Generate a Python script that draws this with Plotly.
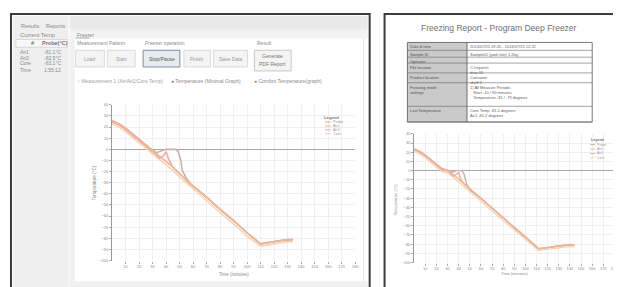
import plotly.graph_objects as go

W, H = 621, 287
def X(px): return px / W
def Y(py): return 1 - py / H

# ---------------- data (left screenshot) ----------------
x_ticks = [10, 20, 30, 40, 50, 60, 70, 80, 90, 100, 110, 120, 130, 140, 150, 160, 170, 180]
y_ticks = [40, 30, 20, 10, 0, -10, -20, -30, -40, -50, -60, -70, -80, -90, -100]

left_probe_t = [0, 5, 10, 15, 20, 25, 29, 33, 37, 40, 47, 49, 51, 52, 55, 58, 70, 80, 90, 100, 110, 115, 120, 125, 130, 134]
left_probe_v = [25, 23, 19, 14, 9, 4, 0, -3, -1, 0, 0, -2, -10, -19, -26, -31, -43, -54, -64, -75, -85, -84, -83, -82, -82, -81]
left_air1_t = [0, 5, 10, 15, 20, 25, 29, 35, 40, 45, 50, 58, 70, 80, 90, 100, 110, 115, 120, 125, 130, 134]
left_air1_v = [26, 23, 19, 14, 9, 4, 0, -6, -11, -16, -22, -31, -43, -54, -64, -75, -85, -84, -83, -82, -81, -81]
left_air2_t = [0, 5, 10, 15, 20, 25, 29, 32, 35, 38, 40, 42, 45, 50, 58, 70, 80, 90, 100, 110, 115, 120, 125, 130, 134]
left_air2_v = [25, 22, 18, 13, 8, 3, -1, -4, -8, -6, -2, -9, -16, -22, -31, -43, -54, -64, -75, -85, -84, -83, -82, -81, -81]
left_core_t = [0, 5, 10, 15, 20, 25, 29, 35, 40, 45, 50, 58, 70, 80, 90, 100, 110, 115, 120, 125, 130, 134]
left_core_v = [23, 20, 16, 11, 6, 1, -3, -9, -14, -19, -25, -33, -46, -57, -67, -78, -87, -86, -85, -84, -83, -83]

# ---------------- data (right screenshot) ----------------
right_probe_t = [0, 5, 10, 15, 20, 25, 31, 34, 38, 43, 45, 47, 49, 51, 60, 70, 80, 90, 100, 112, 118, 124, 130, 137, 144]
right_probe_v = [23, 21, 17, 12, 7, 2, 0, -2, 0, 0, -4, -14, -19, -22, -30, -41, -51, -62, -72, -85, -84, -83, -82, -81, -81]
right_air1_t = [0, 5, 10, 15, 20, 25, 31, 36, 41, 46, 51, 60, 70, 80, 90, 100, 112, 118, 124, 130, 137, 144]
right_air1_v = [24, 21, 17, 12, 7, 2, 0, -5, -11, -16, -21, -30, -41, -51, -62, -72, -85, -84, -83, -82, -81, -81]
right_air2_t = [0, 5, 10, 15, 20, 25, 31, 35, 38, 40, 42, 46, 51, 60, 70, 80, 90, 100, 112, 118, 124, 130, 137, 144]
right_air2_v = [23, 20, 16, 11, 6, 1, -1, -6, -4, -2, -10, -16, -21, -30, -41, -51, -62, -72, -85, -84, -83, -82, -81, -81]
right_core_t = [0, 5, 10, 15, 20, 25, 31, 36, 41, 46, 51, 60, 70, 80, 90, 100, 112, 118, 124, 130, 137, 144]
right_core_v = [21, 18, 14, 9, 4, -1, -3, -8, -14, -19, -24, -33, -44, -54, -65, -75, -87, -86, -85, -84, -83, -83]

series_names = ["Probe", "Air1", "Air2", "Core"]
series_colors = ["#c9b3a6", "#f4b48c", "#f2aaa8", "#f9d5b6"]

sidebar_rows = [("Air1", "-81.1°C"), ("Air2", "-82.5°C"), ("Core", "-83.1°C"), ("Time", "1:55:12")]
buttons = [("Load", 68, 97), ("Start", 100, 128), ("Stop/Pause", 136, 173), ("Finish", 177, 204), ("Save Data", 207, 241)]
report_rows = [
    ("Date & time", "2013/07/25 09:45 - 2013/07/25 12:22", 32, 40),
    ("Sample ID", "Sample01 (pork loin) 1.2kg", 40, 47),
    ("Operator", "", 47, 53),
    ("File location", "C:\\reports\\<br>data 01", 53, 63),
    ("Product location", "Container<br>shelf 2", 63, 73),
    ("Freezing mode<br>settings", "1) All Measure Periods<br>   Start -10 / 90 minutes<br>   Temperature -81 / -79 degrees", 73, 97),
    ("Last Temperature", "Core Temp -81.1 degrees<br>Air1 -81.2 degrees", 97, 113),
]

FONT = "Liberation Sans"
TXT = "#8a8a8a"

fig = go.Figure()

left = [(left_probe_t, left_probe_v), (left_air1_t, left_air1_v), (left_air2_t, left_air2_v), (left_core_t, left_core_v)]
right = [(right_probe_t, right_probe_v), (right_air1_t, right_air1_v), (right_air2_t, right_air2_v), (right_core_t, right_core_v)]
order = [3, 2, 0, 1]
for i in order:
    t, v = left[i]
    fig.add_trace(go.Scatter(x=t, y=v, mode="lines", name=series_names[i],
                             line=dict(color=series_colors[i], width=1.6), xaxis="x", yaxis="y", showlegend=False))
for i in order:
    t, v = right[i]
    fig.add_trace(go.Scatter(x=t, y=v, mode="lines", name=series_names[i],
                             line=dict(color=series_colors[i], width=1.4), xaxis="x2", yaxis="y2", showlegend=False))

shapes = []
ann = []

def rect(x0, y0, x1, y1, fill=None, line=None, lw=1, layer="below"):
    shapes.append(dict(type="rect", xref="paper", yref="paper", x0=X(x0), x1=X(x1), y0=Y(y1), y1=Y(y0),
                       fillcolor=fill if fill else "rgba(0,0,0,0)",
                       line=dict(color=line if line else "rgba(0,0,0,0)", width=lw if line else 0), layer=layer))

def hline(x0, x1, y, color, lw=1, layer="below"):
    shapes.append(dict(type="line", xref="paper", yref="paper", x0=X(x0), x1=X(x1), y0=Y(y), y1=Y(y),
                       line=dict(color=color, width=lw), layer=layer))

def vline(x, y0, y1, color, lw=1, layer="below"):
    shapes.append(dict(type="line", xref="paper", yref="paper", x0=X(x), x1=X(x), y0=Y(y0), y1=Y(y1),
                       line=dict(color=color, width=lw), layer=layer))

def txt(px, py, s, size=5.5, color=TXT, anchor="left", angle=0, yanchor="middle"):
    ann.append(dict(x=X(px), y=Y(py), xref="paper", yref="paper", text=s, showarrow=False,
                    xanchor=anchor, yanchor=yanchor, textangle=angle, borderpad=0,
                    font=dict(family=FONT, size=size, color=color), align="left"))

# ---------- left panel ----------
rect(3, 3, 364, 284, fill="white", line="#3c3c3c", lw=2)
rect(5, 5, 61, 282, fill="#efefef")
rect(62, 5, 362, 19, fill="#e9e9e9")
rect(62, 19, 362, 28, fill="#f3f3f3")
rect(62, 28, 67, 282, fill="#f0f0f0")
rect(62, 275, 362, 282, fill="#f0f0f0")
vline(358, 28, 275, "#e2e2e2")
txt(12, 15, "Results", 5.5)
txt(37, 15, "Reports", 5.5)
txt(11, 24, "Current Temp", 5.8)
rect(8, 29, 60, 37, fill="#f7f7f7", line="#c8c8c8", lw=0.6)
txt(22, 33, "<b>#</b>", 5.5, "#707070")
txt(33, 33, "<b>Probe(°C)</b>", 5.5, "#707070")
for k, (a, b) in enumerate(sidebar_rows):
    yy = [42, 47.5, 53, 60][k]
    txt(11, yy, a, 5, TXT)
    txt(35, yy, b, 5, TXT)
txt(68, 24, "Freezer", 5, TXT)
hline(68, 82, 27.5, "#9a9a9a", 0.8)
txt(68, 33, "Measurement Pattern", 5, TXT)
txt(137, 33, "Freezer operation", 5, TXT)
txt(250, 33, "Result", 5, TXT)
for name, a, b in buttons:
    if name == "Stop/Pause":
        rect(a, 40, b, 57, fill="#e6ebf2", line="#7f8da0", lw=1)
        txt((a + b) / 2, 48.5, name, 5, "#555", anchor="center")
    else:
        rect(a, 40, b, 57, fill="#f4f4f4", line="#d2d2d2", lw=0.8)
        txt((a + b) / 2, 48.5, name, 5, "#9a9a9a", anchor="center")
rect(248, 40, 285, 61, fill="#f4f4f4", line="#bdbdbd", lw=0.8)
txt(266.5, 46, "Generate", 5, "#777", anchor="center")
txt(266.5, 54, "PDF Report", 5, "#777", anchor="center")
txt(68, 71, "○ Measurement 1 (Air/Air2/Core Temp)", 5, "#a0a0a0")
txt(163, 71, "● Temperature (Minimal Graph)", 5, "#8a8a8a")
txt(247, 71, "● Comfort Temperature(graph)", 5, "#8a8a8a")
txt(88, 175, "Temperature (°C)", 4.5, TXT, anchor="center", angle=-90)
txt(227, 268, "Time (minutes)", 4.5, TXT, anchor="center")

# left legend (key box)
txt(326, 108, "<b>Legend</b>", 4.2, "#777", anchor="center")
for k, i in enumerate([0, 1, 2, 3]):
    yy = 113 + k * 4
    hline(319, 325, yy, series_colors[i], 1, layer="above")
    txt(326, yy, series_names[i], 3.8, "#999")

# ---------- right panel ----------
rect(379, 3, 618, 284, fill="white", line="#3c3c3c", lw=2)
txt(494, 17, "Freezing Report - Program Deep Freezer", 8.5, "#707070", anchor="center")
rect(402, 32, 462, 113, fill="#cacaca")
rect(402, 32, 588, 113, line="#555555", lw=0.8)
vline(462, 32, 113, "#555555", 0.8)
for lab, val, y0, y1 in report_rows:
    hline(402, 588, y1, "#666666", 0.6)
    txt(404, y0 + 0.8, lab, 4.0, "#505050", yanchor="top")
    if val:
        txt(464, y0 + 0.8, val, 4.0, "#606060", yanchor="top")
txt(390, 192, "Temperature (°C)", 4, TXT, anchor="center", angle=-90)
txt(510, 267, "Time (minutes)", 4, TXT, anchor="center")
txt(593, 131, "<b>Legend</b>", 3.6, "#777", anchor="center")
for k, i in enumerate([0, 1, 2, 3]):
    yy = 136 + k * 4.5
    hline(586, 591, yy, series_colors[i], 1, layer="above")
    txt(592, yy, series_names[i], 3.4, "#999")

axis_common = dict(showgrid=True, gridcolor="#efefef", gridwidth=1, ticks="outside", ticklen=2,
                   tickcolor="#aaa", tickfont=dict(family=FONT, size=4, color="#8a8a8a"))

fig.update_layout(
    width=W, height=H, autosize=False, margin=dict(l=0, r=0, t=0, b=0),
    paper_bgcolor="white", plot_bgcolor="rgba(0,0,0,0)",
    shapes=shapes, annotations=ann, showlegend=False,
    xaxis=dict(domain=[X(104.7), X(349.3)], range=[0, 180], tickvals=x_ticks, zeroline=False,
               showline=False, anchor="y", **axis_common),
    yaxis=dict(domain=[Y(254), Y(95.5)], range=[-100, 40], tickvals=y_ticks, zeroline=True,
               zerolinecolor="#a8a8a8", zerolinewidth=1, showline=True, linecolor="#9a9a9a",
               anchor="x", **axis_common),
    xaxis2=dict(domain=[X(408.8), X(610.3)], range=[0, 180], tickvals=x_ticks, zeroline=False,
                showline=False, anchor="y2", **axis_common),
    yaxis2=dict(domain=[Y(256), Y(125)], range=[-100, 40], tickvals=y_ticks, zeroline=True,
                zerolinecolor="#a8a8a8", zerolinewidth=1, showline=True, linecolor="#9a9a9a",
                anchor="x2", **axis_common),
)

fig.write_html("out.html")
